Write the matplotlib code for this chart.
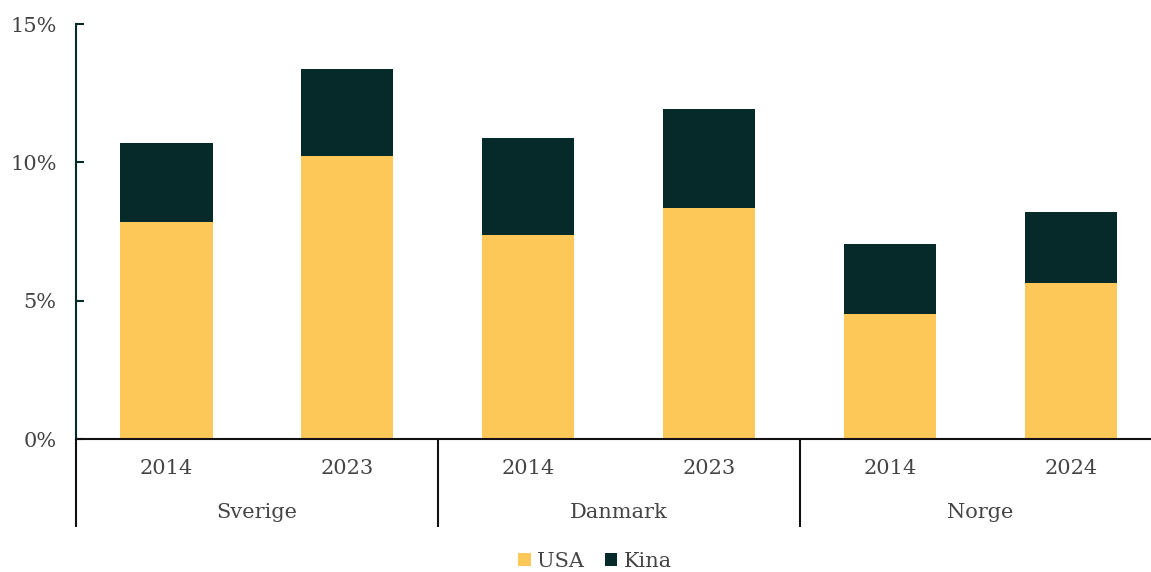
import matplotlib.pyplot as plt
import numpy as np

plt.rcParams['font.family'] = ['DejaVu Serif']

groups = ['Sverige', 'Danmark', 'Norge']
years = ['2014', '2023', '2014', '2023', '2014', '2024']
usa = [7.84, 10.23, 7.37, 8.35, 4.52, 5.64]
kina = [2.86, 3.14, 3.51, 3.58, 2.53, 2.56]

c_usa = '#FDC857'
c_kina = '#06292A'
txt = '#444444'

fig = plt.figure(figsize=(11.51, 5.72), dpi=100)
ax = fig.add_axes([0.066, 0.2325, 0.943, 0.7255])

x = np.arange(len(years))
ax.bar(x, usa, width=0.51, color=c_usa, label='USA')
ax.bar(x, kina, width=0.51, bottom=usa, color=c_kina, label='Kina')

ax.set_xlim(-0.5, len(years) - 0.5)
ax.set_ylim(0, 15)
ax.set_yticks([0, 5, 10, 15])
ax.set_yticklabels(['0%', '5%', '10%', '15%'], fontsize=15, color=txt)
ax.tick_params(axis='y', direction='in', length=6, width=1.5, color=c_kina, pad=14)
ax.set_xticks([])

for s in ['top', 'right']:
    ax.spines[s].set_visible(False)
ax.spines['left'].set_color(c_kina)
ax.spines['left'].set_linewidth(1.5)
ax.spines['bottom'].set_color('#111111')
ax.spines['bottom'].set_linewidth(1.5)

# year labels
for i, y in enumerate(years):
    ax.text(i, -0.072, y, transform=ax.get_xaxis_transform(), ha='center', va='center',
            fontsize=15, color=txt)

# group labels and separators
for g, name in enumerate(groups):
    ax.text(2 * g + 0.5, -0.178, name, transform=ax.get_xaxis_transform(), ha='center',
            va='center', fontsize=15, color=txt)
for sx in [-0.5, 1.5, 3.5]:
    ax.plot([sx, sx], [0, -0.212], transform=ax.get_xaxis_transform(), color='#111111',
            lw=1.5, clip_on=False, solid_capstyle='butt')

leg = fig.legend(loc='center', bbox_to_anchor=(0.517, 0.018), ncol=2, frameon=False,
                 fontsize=15, handlelength=0.6, handleheight=0.6, handletextpad=0.3,
                 columnspacing=1.0)
for t in leg.get_texts():
    t.set_color(txt)

fig.savefig('out.png', dpi=100)
